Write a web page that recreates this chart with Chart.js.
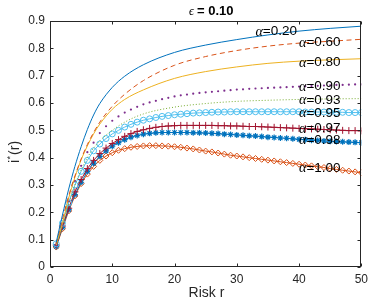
<!DOCTYPE html>
<html lang="en">
<head>
    <meta charset="UTF-8">
    <title>i*(r) vs risk</title>
    <script src="https://cdn.jsdelivr.net/npm/chart.js"></script>
    <style>
        body { margin: 0; background: #fff; }
        canvas { display: block; }
    </style>
</head>
<body>
<canvas id="myChart" width="373" height="301"></canvas>

<script>
    // risk grid for the marker series (one point per integer r)
    var rFull = Array.from({ length: 50 }, function (_, i) { return i + 1; });
    // coarser grid for the plain line series
    var rLine = [1, 2, 3, 4, 5, 6, 7, 8, 10, 12, 15, 20, 25, 30, 35, 40, 45, 50];

    var a020 = [0.09, 0.19, 0.285, 0.368, 0.44, 0.503, 0.556, 0.598, 0.657, 0.698, 0.740, 0.785, 0.812, 0.832, 0.849, 0.863, 0.873, 0.881];
    var a060 = [0.085, 0.175, 0.26, 0.333, 0.395, 0.448, 0.492, 0.53, 0.588, 0.632, 0.682, 0.738, 0.770, 0.792, 0.808, 0.819, 0.826, 0.833];
    var a080 = [0.08, 0.16, 0.252, 0.328, 0.392, 0.443, 0.487, 0.523, 0.577, 0.613, 0.648, 0.69, 0.715, 0.732, 0.745, 0.753, 0.758, 0.762];
    var a093 = [0.08, 0.15, 0.23, 0.30, 0.355, 0.40, 0.435, 0.462, 0.50, 0.53, 0.56, 0.585, 0.598, 0.606, 0.61, 0.613, 0.615, 0.616];

    var a090 = [0.08, 0.155, 0.24, 0.315, 0.37, 0.42, 0.455, 0.49, 0.515, 0.535,
                0.551, 0.565, 0.576, 0.586, 0.595, 0.602, 0.608, 0.614, 0.619, 0.624,
                0.628, 0.631, 0.634, 0.637, 0.639, 0.641, 0.643, 0.645, 0.647, 0.649,
                0.650, 0.652, 0.653, 0.654, 0.655, 0.656, 0.657, 0.658, 0.659, 0.660,
                0.661, 0.662, 0.663, 0.664, 0.665, 0.666, 0.666, 0.667, 0.668, 0.668];
    var a095 = [0.085, 0.16, 0.235, 0.30, 0.35, 0.39, 0.425, 0.45, 0.47, 0.487,
                0.50, 0.512, 0.522, 0.53, 0.537, 0.542, 0.547, 0.551, 0.554, 0.557,
                0.559, 0.561, 0.563, 0.564, 0.565, 0.566, 0.567, 0.567, 0.568, 0.568,
                0.568, 0.568, 0.568, 0.568, 0.568, 0.568, 0.568, 0.568, 0.568, 0.568,
                0.567, 0.567, 0.567, 0.567, 0.566, 0.566, 0.566, 0.565, 0.565, 0.565];
    var a097 = [0.08, 0.15, 0.215, 0.275, 0.32, 0.36, 0.39, 0.415, 0.435, 0.452,
                0.466, 0.478, 0.488, 0.496, 0.502, 0.507, 0.511, 0.514, 0.516, 0.517,
                0.518, 0.518, 0.518, 0.518, 0.518, 0.518, 0.517, 0.517, 0.516, 0.516,
                0.515, 0.514, 0.514, 0.513, 0.512, 0.511, 0.510, 0.509, 0.508, 0.507,
                0.506, 0.505, 0.504, 0.503, 0.502, 0.501, 0.500, 0.499, 0.499, 0.498];
    var a098 = [0.075, 0.145, 0.21, 0.265, 0.31, 0.35, 0.38, 0.405, 0.425, 0.442,
                0.455, 0.466, 0.475, 0.481, 0.486, 0.489, 0.491, 0.492, 0.492, 0.492,
                0.492, 0.492, 0.491, 0.491, 0.490, 0.489, 0.488, 0.486, 0.485, 0.483,
                0.482, 0.480, 0.479, 0.477, 0.475, 0.474, 0.472, 0.471, 0.469, 0.467,
                0.466, 0.464, 0.463, 0.461, 0.460, 0.459, 0.458, 0.457, 0.456, 0.455];
    var a100 = [0.073, 0.14, 0.205, 0.26, 0.305, 0.34, 0.368, 0.39, 0.406, 0.418,
                0.427, 0.433, 0.438, 0.441, 0.443, 0.444, 0.444, 0.443, 0.442, 0.440,
                0.438, 0.435, 0.432, 0.428, 0.424, 0.421, 0.417, 0.413, 0.409, 0.406,
                0.403, 0.400, 0.397, 0.394, 0.391, 0.388, 0.385, 0.382, 0.379, 0.376,
                0.373, 0.370, 0.367, 0.364, 0.360, 0.357, 0.354, 0.351, 0.348, 0.345];

    // curve labels: text and the (r, value) spot where each one sits
    var labelText = ['0.20', '0.60', '0.80', '0.90', '0.93', '0.95', '0.97', '0.98', '1.00'];
    var labelR    = [33, 40, 40, 40, 40, 40, 40, 40, 40];
    var labelY    = [0.862, 0.821, 0.748, 0.661, 0.61, 0.563, 0.506, 0.464, 0.362];

    var xTicks = [0, 10, 20, 30, 40, 50];
    var yTicks = [0, 0.1, 0.2, 0.3, 0.4, 0.5, 0.6, 0.7, 0.8, 0.9];

    function pts(xs, ys) {
        return xs.map(function (x, i) { return { x: x, y: ys[i] }; });
    }

    var SANS = '"Liberation Sans", Arial, sans-serif';
    var SERIF = '"Liberation Serif", "DejaVu Serif", serif';

    // frame with inward ticks, MATLAB style
    var framePlugin = {
        id: 'frame',
        afterDraw: function (chart) {
            var c = chart.ctx, a = chart.chartArea;
            var xs = chart.scales.x, ys = chart.scales.y;
            var L = Math.round(a.left) + 0.5, R = Math.round(a.right) - 0.5;
            var T = Math.round(a.top) + 0.5, B = Math.round(a.bottom) - 0.5;
            c.save();
            c.strokeStyle = '#262626';
            c.lineWidth = 1;
            c.strokeRect(L, T, R - L, B - T);
            c.beginPath();
            xTicks.forEach(function (v) {
                var px = Math.round(xs.getPixelForValue(v)) + 0.5;
                c.moveTo(px, B); c.lineTo(px, B - 3);
                c.moveTo(px, T); c.lineTo(px, T + 3);
            });
            yTicks.forEach(function (v) {
                var py = Math.round(ys.getPixelForValue(v)) + 0.5;
                c.moveTo(L, py); c.lineTo(L + 3, py);
                c.moveTo(R, py); c.lineTo(R - 3, py);
            });
            c.stroke();

            // title
            c.fillStyle = '#000';
            c.textBaseline = 'alphabetic';
            c.textAlign = 'left';
            c.font = 'italic 12px ' + SERIF;
            c.fillText('\u03F5', 189, 15);
            c.font = 'bold 13px ' + SANS;
            c.fillText('= 0.10', 197, 15);

            // x title
            c.fillStyle = '#262626';
            c.font = '14px ' + SANS;
            c.textAlign = 'center';
            c.fillText('Risk r', 206.5, 297);

            // y title, rotated: i, superscript *, (r)
            c.translate(18.5, 163);
            c.rotate(-Math.PI / 2);
            c.textAlign = 'left';
            c.font = '14px ' + SANS;
            c.fillText('i', 0, 0);
            var w = c.measureText('i').width;
            c.font = '9px ' + SANS;
            c.fillText('*', w + 0.5, -6);
            var w2 = c.measureText('*').width;
            c.font = '14px ' + SANS;
            c.fillText('(r)', w + w2 + 1.5, 0);
            c.restore();
        }
    };

    // alpha labels on top of the curves
    var labelPlugin = {
        id: 'alphaLabels',
        afterDatasetsDraw: function (chart) {
            var c = chart.ctx;
            var xs = chart.scales.x, ys = chart.scales.y;
            c.save();
            c.fillStyle = '#000';
            c.textBaseline = 'middle';
            c.textAlign = 'left';
            labelText.forEach(function (t, i) {
                var px = xs.getPixelForValue(labelR[i]);
                var py = ys.getPixelForValue(labelY[i]);
                c.font = 'italic 14px ' + SERIF;
                c.fillText('\u03B1', px, py + 0.5);
                var w = c.measureText('\u03B1').width;
                c.font = '13.5px ' + SANS;
                c.fillText('=' + t, px + w, py);
            });
            c.restore();
        }
    };

    var base = { borderWidth: 1, pointRadius: 0, showLine: true, fill: false };

    var ctx = document.getElementById('myChart').getContext('2d');
    var chart = new Chart(ctx, {
        type: 'scatter',
        data: {
            datasets: [
                Object.assign({}, base, { label: 'a=0.20', data: pts(rLine, a020), borderColor: '#0072BD', cubicInterpolationMode: 'monotone' }),
                Object.assign({}, base, { label: 'a=0.60', data: pts(rLine, a060), borderColor: '#D95319', borderDash: [5, 3.5], cubicInterpolationMode: 'monotone' }),
                Object.assign({}, base, { label: 'a=0.80', data: pts(rLine, a080), borderColor: '#EDB120', cubicInterpolationMode: 'monotone' }),
                { label: 'a=0.90', data: pts(rFull, a090), showLine: false, pointStyle: 'circle', pointRadius: 1.1, borderWidth: 0,
                  backgroundColor: '#7E2F8E', borderColor: '#7E2F8E' },
                Object.assign({}, base, { label: 'a=0.93', data: pts(rLine, a093), borderColor: '#77AC30', borderDash: [1, 2], cubicInterpolationMode: 'monotone' }),
                Object.assign({}, base, { label: 'a=0.95', data: pts(rFull, a095), borderColor: '#4DBEEE', pointStyle: 'circle', pointRadius: 3,
                  pointBorderWidth: 1, pointBackgroundColor: 'rgba(0,0,0,0)', pointBorderColor: '#4DBEEE' }),
                Object.assign({}, base, { label: 'a=0.97', data: pts(rFull, a097), borderColor: '#A2142F', pointStyle: 'cross', pointRadius: 3.5,
                  pointBorderWidth: 1, pointBorderColor: '#A2142F' }),
                Object.assign({}, base, { label: 'a=0.98', data: pts(rFull, a098), borderColor: '#0072BD', pointStyle: 'star', pointRadius: 3,
                  pointBorderWidth: 1.2, pointBorderColor: '#0072BD' }),
                Object.assign({}, base, { label: 'a=1.00', data: pts(rFull, a100), borderColor: '#D95319', pointStyle: 'rectRot', pointRadius: 3,
                  pointBorderWidth: 1, pointBackgroundColor: 'rgba(0,0,0,0)', pointBorderColor: '#D95319' })
            ]
        },
        options: {
            responsive: false,
            animation: false,
            layout: { padding: { top: 21, right: 10, left: 0, bottom: 0 } },
            plugins: {
                legend: { display: false },
                tooltip: { enabled: false },
                title: { display: false }
            },
            scales: {
                x: {
                    type: 'linear',
                    min: 0, max: 50,
                    grid: { display: false, drawTicks: false },
                    border: { display: false },
                    ticks: { stepSize: 10, padding: 5, color: '#262626', font: { size: 12, family: SANS } },
                    afterFit: function (s) { s.height = 34; }
                },
                y: {
                    min: 0, max: 0.9,
                    grid: { display: false, drawTicks: false },
                    border: { display: false },
                    ticks: {
                        stepSize: 0.1, padding: 5, color: '#262626', font: { size: 12, family: SANS },
                        callback: function (v) { return Math.abs(v) < 1e-9 ? '0' : v.toFixed(1); }
                    },
                    afterFit: function (s) { s.width = 50; }
                }
            }
        },
        plugins: [labelPlugin, framePlugin]
    });
</script>
</body>
</html>
